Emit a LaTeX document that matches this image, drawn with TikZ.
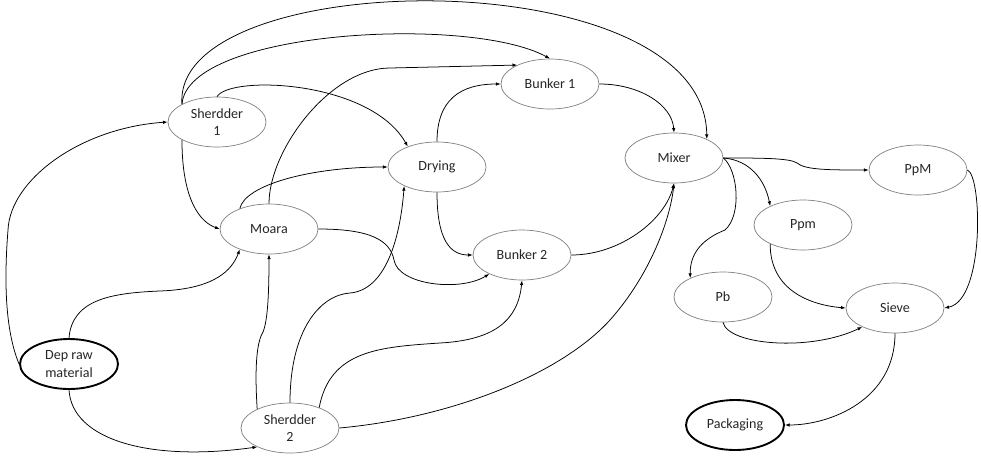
\documentclass[tikz,border=0pt]{standalone}
\usepackage{fontspec}
\setmainfont{Carlito}
\usetikzlibrary{arrows.meta,positioning,shapes.geometric}
\definecolor{rim}{HTML}{7F7F7F}
\definecolor{ink}{HTML}{262626}
\begin{document}
\begin{tikzpicture}[x=0.3mm,y=-0.3mm,every node/.style={ellipse,draw=rim,line width=0.6pt,inner sep=0pt,minimum width=29.4mm,minimum height=15mm,align=center,text=ink,font=\fontsize{12}{15}\selectfont},endpt/.style={draw=black,line width=1.6pt},flow/.style={-{Latex[length=4pt,width=3pt]},line width=0.65pt}]
\useasboundingbox (0,0) rectangle (981,459);
\node (s1) at (217,122){Sherdder\\1};\node (dry) at (437,167){Drying};\node (moa) at (269,229){Moara};
\node[endpt] (dep) at (69,364){Dep raw\\material};\node (s2) at (290,428){Sherdder\\2};
\node (b1) at (550,84){Bunker 1};\node (b2) at (522,255){Bunker 2};\node (mix) at (674,158){Mixer};
\node (pM) at (918,170){PpM};\node (pm) at (803,225){Ppm};\node (pb) at (723,297){Pb};
\node (sv) at (895,308){Sieve};\node[endpt] (pack) at (735,425){Packaging};
% raw material
\draw[flow] (dep.west) .. controls (5,330) and (4,280) .. (8,230) .. controls (10,180) and (80,128) .. (s1.west);
\draw[flow] (dep.north) .. controls (72,300) and (110,293) .. (160,291) .. controls (215,289) and (232,270) .. (moa.215);
\draw[flow] (dep.south) .. controls (72,440) and (150,462) .. (s2.210);
% shredder 1
\draw[flow] (s1.207) .. controls (182,200) and (200,222) .. (moa.west);
\draw[flow] (s1.north) .. controls (230,75) and (370,80) .. (dry.145);
\draw[flow] (s1.153) .. controls (188,30) and (470,15) .. (b1.north);
\draw[flow] (s1.153) .. controls (172,-35) and (705,-42) .. (mix.30);
% moara, drying
\draw[flow] (moa.north) .. controls (269,150) and (330,68) .. (390,68) -- (b1.150);
\draw[flow] (moa.145) .. controls (245,185) and (310,167) .. (dry.west);
\draw[flow] (moa.east) .. controls (370,229) and (390,240) .. (394,260) .. controls (398,285) and (460,292) .. (b2.210);
\draw[flow] (dry.north) .. controls (437,100) and (460,84) .. (b1.west);
\draw[flow] (dry.south) .. controls (437,240) and (450,255) .. (b2.west);
% shredder 2
\draw[flow] (s2.150) .. controls (254,360) and (258,340) .. (263,332) .. controls (268,320) and (269,290) .. (moa.south);
\draw[flow] (s2.north) .. controls (290,330) and (320,295) .. (350,293) .. controls (385,290) and (400,240) .. (dry.210);
\draw[flow] (s2.35) .. controls (330,350) and (380,347) .. (440,343) .. controls (495,340) and (518,320) .. (b2.south);
\draw[flow] (s2.east) .. controls (450,418) and (560,375) .. (610,320) .. controls (650,275) and (670,220) .. (mix.south);
% bunkers to mixer
\draw[flow] (b1.east) .. controls (640,84) and (672,105) .. (mix.north);
\draw[flow] (b2.east) .. controls (620,255) and (665,220) .. (mix.south);
% mixer outputs
\draw[flow] (mix.east) .. controls (760,158) and (790,158) .. (797,163) .. controls (805,170) and (830,170) .. (pM.west);
\draw[flow] (mix.east) .. controls (750,160) and (765,180) .. (pm.150);
\draw[flow] (mix.east) .. controls (738,170) and (742,215) .. (725,230) .. controls (700,240) and (690,255) .. (pb.150);
\draw[flow] (pm.210) .. controls (770,290) and (810,305) .. (sv.west);
\draw[flow] (pM.east) .. controls (982,175) and (985,300) .. (sv.east);
\draw[flow] (pb.south) .. controls (728,345) and (810,352) .. (sv.210);
\draw[flow] (sv.south) .. controls (895,400) and (830,425) .. (pack.east);
\end{tikzpicture}
\end{document}
